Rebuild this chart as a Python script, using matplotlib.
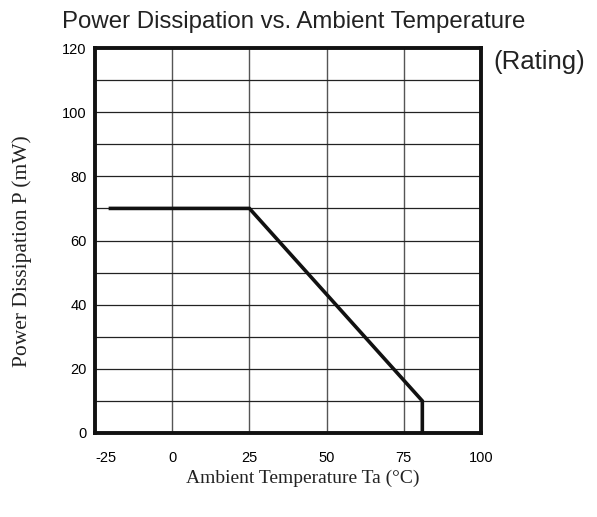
import matplotlib
matplotlib.use("Agg")
import matplotlib.pyplot as plt

temp_c = [-20, 25, 81, 81]
power_mw = [70, 70, 10, 0]
x_ticks = [-25, 0, 25, 50, 75, 100]
y_ticks = [0, 20, 40, 60, 80, 100, 120]
y_grid = list(range(0, 121, 10))

fig = plt.figure(figsize=(5.97, 5.17), dpi=100)
ax = fig.add_axes([95/597, 1-433/517, (481-95)/597, (433-48)/517])
ax.set_xlim(-25, 100)
ax.set_ylim(0, 120)

for g in x_ticks[1:-1]:
    ax.axvline(g, color="#555555", lw=1.0, zorder=1)
for g in y_grid[1:-1]:
    ax.axhline(g, color="#222222", lw=0.9, zorder=1)

ax.plot(temp_c, power_mw, color="#111111", lw=2.6, zorder=3, solid_joinstyle="miter")

for s in ax.spines.values():
    s.set_linewidth(2.8)
    s.set_color("#111111")

sans = "Liberation Sans"
serif = "Liberation Serif"
ax.set_xticks(x_ticks)
ax.set_yticks(y_ticks)
ax.set_xticklabels([str(t) for t in x_ticks], fontfamily=sans, fontsize=10.5)
ax.set_yticklabels([str(t) for t in y_ticks], fontfamily=sans, fontsize=10.5)
ax.tick_params(axis="x", length=0, pad=13)
ax.tick_params(axis="y", length=0, pad=6)
ax.get_xticklabels()[0].set_horizontalalignment("left")

fig.text(294/597, 1-28/517, "Power Dissipation vs. Ambient Temperature",
         ha="center", va="baseline", fontfamily=sans, fontsize=17.3, color="#222222")
fig.text(493/597, 1-62/517, "(Rating)", ha="left", va="center",
         fontfamily=sans, fontsize=18.5, color="#222222")
fig.text(303/597, 1-478/517, "Ambient Temperature Ta (°C)", ha="center",
         va="center", fontfamily=serif, fontsize=14, color="#222222")
fig.text(22/597, 1-251/517, "Power Dissipation P (mW)", ha="center",
         va="center", rotation=90, fontfamily=serif, fontsize=15.5, color="#222222")

fig.savefig("out.png", dpi=100)
